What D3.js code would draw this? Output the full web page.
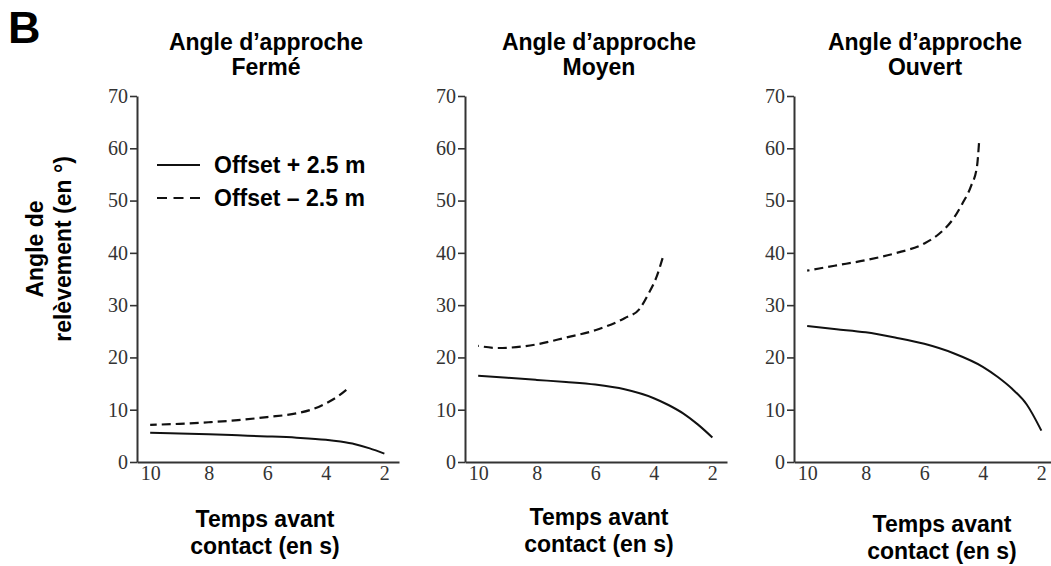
<!DOCTYPE html>
<html>
<head>
<meta charset="utf-8">
<script src="https://cdn.jsdelivr.net/npm/d3@7"></script>
<style>
  html, body { margin: 0; padding: 0; background: #fff; }
  svg { display: block; }
  .bold { font-family: "Liberation Sans", Arial, sans-serif; font-weight: bold; fill: #000; }
  .tick text { font-family: "Liberation Serif", "Times New Roman", serif; fill: #333; }
</style>
</head>
<body>
<svg id="chart" width="1051" height="566"></svg>
<script>
// ---------- data ----------
const panelNames = ["Fermé", "Moyen", "Ouvert"];
const titleLine1 = "Angle d\u2019approche";
const xTickValues = [10, 8, 6, 4, 2];
const yTickValues = [0, 10, 20, 30, 40, 50, 60, 70];
const seriesLabels = ["Offset + 2.5 m", "Offset \u2013 2.5 m"];
const yLabelLines = ["Angle de", "relèvement (en °)"];
const xLabelLines = ["Temps avant", "contact (en s)"];

// Fermé
const fermePlusT   = [10, 9, 8, 7, 6, 5, 4, 3.5, 3, 2.5, 2];
const fermePlusV   = [5.6, 5.45, 5.3, 5.1, 4.9, 4.65, 4.25, 3.9, 3.4, 2.6, 1.6];
const fermeMinusT  = [10, 9, 8, 7, 6, 5, 4.5, 4, 3.6, 3.3];
const fermeMinusV  = [7.1, 7.3, 7.6, 8.0, 8.6, 9.3, 10.0, 11.2, 12.5, 13.8];
// Moyen
const moyenPlusT   = [10, 9, 8, 7, 6, 5, 4, 3.5, 3, 2.5, 2];
const moyenPlusV   = [16.5, 16.1, 15.7, 15.3, 14.8, 13.9, 12.2, 10.9, 9.3, 7.2, 4.7];
const moyenMinusT  = [10, 9.3, 8, 7, 6, 5, 4.5, 4.2, 3.9, 3.7];
const moyenMinusV  = [22.2, 21.8, 22.5, 23.8, 25.2, 27.5, 29.2, 32, 35.5, 39];
// Ouvert
const ouvertPlusT  = [10, 9, 8, 7, 6, 5, 4, 3.5, 3, 2.5, 2];
const ouvertPlusV  = [26, 25.4, 24.8, 23.8, 22.6, 20.8, 18.2, 16.3, 14, 11, 6];
const ouvertMinusT = [10, 9, 8, 7, 6, 5.5, 5, 4.7, 4.4, 4.2, 4.13];
const ouvertMinusV = [36.6, 37.6, 38.6, 39.9, 41.8, 43.6, 46.6, 49.4, 52.8, 56.5, 61];

const panelData = [
  { plus: [fermePlusT, fermePlusV],   minus: [fermeMinusT, fermeMinusV] },
  { plus: [moyenPlusT, moyenPlusV],   minus: [moyenMinusT, moyenMinusV] },
  { plus: [ouvertPlusT, ouvertPlusV], minus: [ouvertMinusT, ouvertMinusV] }
];

// ---------- layout ----------
const axisX = [137, 465, 794];
const titleX = [266, 599, 925];
const xTitleX = [265, 599, 942];
const xTitleY = [527, 525, 532];
const yTop = 96, yBottom = 462;
const axisLen = 262;
const fs = "23px";

const svg = d3.select("#chart");

// Letter B
svg.append("text").attr("class", "bold").attr("x", 8).attr("y", 43)
  .style("font-size", "45px").text("B");

// Y axis label
const yl = svg.append("text").attr("class", "bold").style("font-size", fs)
  .attr("text-anchor", "middle")
  .attr("transform", "translate(0,249) rotate(-90)");
yl.append("tspan").attr("x", 0).attr("y", 43).text(yLabelLines[0]);
yl.append("tspan").attr("x", 0).attr("y", 71).text(yLabelLines[1]);

const y = d3.scaleLinear().domain([0, 70]).range([yBottom, yTop]);

panelNames.forEach((name, i) => {
  const x0 = axisX[i];
  const x = d3.scaleLinear().domain([10.45, 1.5]).range([x0, x0 + axisLen]);
  const g = svg.append("g");

  // title
  const t = g.append("text").attr("class", "bold").style("font-size", fs)
    .attr("text-anchor", "middle");
  t.append("tspan").attr("x", titleX[i]).attr("y", 50).text(titleLine1);
  t.append("tspan").attr("x", titleX[i]).attr("y", 75).text(name);

  // y axis
  const ya = g.append("g").attr("transform", `translate(${x0},0)`)
    .call(d3.axisLeft(y).tickValues(yTickValues).tickSize(7).tickSizeOuter(0).tickPadding(2));
  ya.select(".domain").attr("stroke", "#333").attr("stroke-width", 2);
  ya.selectAll(".tick line").attr("stroke", "#333").attr("stroke-width", 1.6);
  ya.selectAll(".tick text").style("font-size", "20px");

  // x axis
  const xa = g.append("g").attr("transform", `translate(0,${yBottom})`)
    .call(d3.axisBottom(x).tickValues(xTickValues).tickSize(0).tickSizeOuter(0).tickPadding(4));
  xa.select(".domain").attr("stroke", "#333").attr("stroke-width", 2);
  xa.selectAll(".tick text").style("font-size", "20px");

  // x title
  const xt = g.append("text").attr("class", "bold").style("font-size", fs)
    .attr("text-anchor", "middle");
  xt.append("tspan").attr("x", xTitleX[i]).attr("y", xTitleY[i]).text(xLabelLines[0]);
  xt.append("tspan").attr("x", xTitleX[i]).attr("y", xTitleY[i] + 27).text(xLabelLines[1]);

  // curves
  const line = d3.line().x(d => x(d[0])).y(d => y(d[1])).curve(d3.curveMonotoneX);
  const pts = arr => arr[0].map((tv, k) => [tv, arr[1][k]]).sort((a, b) => a[0] - b[0]);
  g.append("path").datum(pts(panelData[i].plus)).attr("d", line)
    .attr("fill", "none").attr("stroke", "#111").attr("stroke-width", 2);
  g.append("path").datum(pts(panelData[i].minus)).attr("d", line)
    .attr("fill", "none").attr("stroke", "#111").attr("stroke-width", 2.2)
    .attr("stroke-dasharray", "9,5");
});

// legend
const legY = [165, 198];
seriesLabels.forEach((lab, k) => {
  svg.append("line").attr("x1", 157).attr("x2", 200).attr("y1", legY[k]).attr("y2", legY[k])
    .attr("stroke", "#111").attr("stroke-width", 2)
    .attr("stroke-dasharray", k === 1 ? "10,6.5" : null);
  svg.append("text").attr("class", "bold").style("font-size", fs)
    .attr("x", 214).attr("y", legY[k] + 8).text(lab);
});
</script>
</body>
</html>
